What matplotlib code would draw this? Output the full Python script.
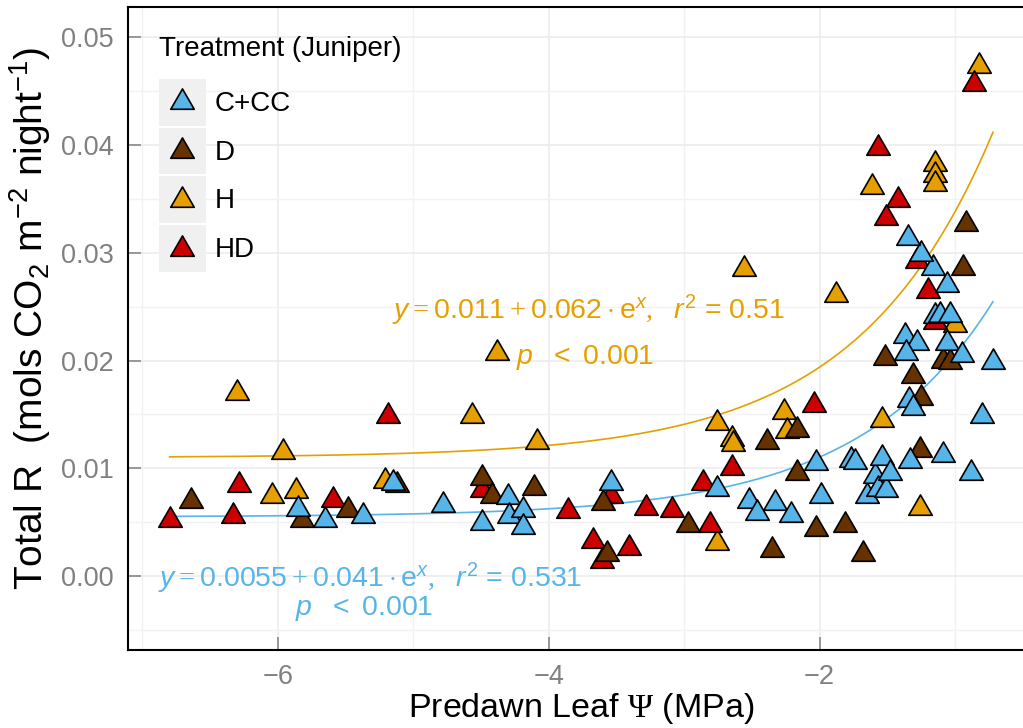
import matplotlib
matplotlib.use("Agg")
import numpy as np
import matplotlib.pyplot as plt
from matplotlib.path import Path
from matplotlib.patches import Rectangle
from matplotlib.lines import Line2D
from matplotlib.legend_handler import HandlerBase
from matplotlib.ticker import MultipleLocator, FormatStrFormatter

plt.rcParams['font.family'] = ['Liberation Sans', 'DejaVu Sans']
plt.rcParams['mathtext.fontset'] = 'custom'
plt.rcParams['mathtext.rm'] = 'Liberation Serif'
plt.rcParams['mathtext.it'] = 'Liberation Sans:italic'
plt.rcParams['mathtext.sf'] = 'Liberation Sans'
plt.rcParams['mathtext.bf'] = 'Liberation Sans:bold'

# ---- data: predawn leaf water potential (MPa) vs total night respiration ----
treatments = ["C+CC", "D", "H", "HD"]
colors = {"C+CC": "#56B4E9", "D": "#663300", "H": "#E69F00", "HD": "#CC0000"}

psi_ccc = [-5.85, -5.65, -5.37, -5.15, -4.78, -4.49, -4.30, -4.29, -4.19, -4.19,
           -3.54, -2.76, -2.52, -2.46, -2.33, -2.21, -2.03, -1.99, -1.77, -1.74,
           -1.65, -1.59, -1.57, -1.54, -1.51, -1.48, -1.33, -1.09, -0.88, -0.80,
           -1.34, -1.31, -1.37, -1.28, -1.36, -1.06, -0.95, -0.72, -1.15, -1.11,
           -1.04, -1.06, -1.16, -1.25, -1.35]
resp_ccc = [0.0062, 0.0052, 0.0056, 0.0086, 0.0066, 0.0049, 0.0073, 0.0056, 0.0061, 0.0046,
            0.0086, 0.0081, 0.0070, 0.0059, 0.0068, 0.0057, 0.0105, 0.0074, 0.0108, 0.0106,
            0.0074, 0.0093, 0.0081, 0.0110, 0.0080, 0.0096, 0.0107, 0.0112, 0.0096, 0.0149,
            0.0163, 0.0156, 0.0223, 0.0216, 0.0207, 0.0216, 0.0205, 0.0199, 0.0241, 0.0242,
            0.0242, 0.0270, 0.0286, 0.0299, 0.0314]

psi_d = [-6.64, -5.82, -5.48, -5.12, -4.49, -4.42, -4.11, -3.60, -3.57, -2.97,
         -2.39, -2.35, -2.17, -2.17, -2.03, -1.81, -1.68, -1.52, -1.31, -1.25,
         -1.26, -1.09, -1.04, -0.94, -0.92]
resp_d = [0.0070, 0.0052, 0.0061, 0.0085, 0.0091, 0.0074, 0.0082, 0.0068, 0.0021, 0.0047,
          0.0124, 0.0024, 0.0136, 0.0096, 0.0044, 0.0047, 0.0021, 0.0202, 0.0186, 0.0165,
          0.0117, 0.0200, 0.0199, 0.0286, 0.0327]

psi_h = [-6.30, -5.96, -6.04, -5.87, -5.21, -4.57, -4.38, -4.09, -2.76, -2.65,
         -2.64, -2.76, -2.56, -2.26, -2.24, -1.88, -1.54, -1.61, -1.15, -1.15,
         -1.15, -1.00, -1.26, -0.82]
resp_h = [0.0170, 0.0115, 0.0074, 0.0079, 0.0088, 0.0149, 0.0207, 0.0124, 0.0142, 0.0127,
          0.0123, 0.0031, 0.0285, 0.0152, 0.0135, 0.0261, 0.0145, 0.0361, 0.0382, 0.0372,
          0.0364, 0.0233, 0.0063, 0.0473]

psi_hd = [-6.80, -6.29, -6.33, -5.59, -5.19, -4.49, -3.86, -3.67, -3.61, -3.41,
          -3.54, -3.28, -3.09, -2.81, -2.86, -2.65, -2.04, -1.57, -1.42, -1.51,
          -1.28, -1.20, -1.15, -0.86]
resp_hd = [0.0052, 0.0085, 0.0056, 0.0071, 0.0149, 0.0080, 0.0060, 0.0033, 0.0014, 0.0026,
           0.0074, 0.0063, 0.0061, 0.0047, 0.0086, 0.0100, 0.0159, 0.0397, 0.0349, 0.0332,
           0.0292, 0.0265, 0.0236, 0.0457]

# exponential fits  y = a + b * exp(x)
fit_h = (0.011, 0.062, 0.51)
fit_ccc = (0.0055, 0.041, 0.531)

series = {"C+CC": (psi_ccc, resp_ccc), "D": (psi_d, resp_d),
          "H": (psi_h, resp_h), "HD": (psi_hd, resp_hd)}

# triangle marker with its centroid on the data point
TRI = Path([(0, 0.577), (-0.5, -0.289), (0.5, -0.289), (0, 0.577)], closed=True)

fig = plt.figure(figsize=(10.23, 7.28), dpi=100)
ax = fig.add_axes([128 / 1023, 78 / 728, (1023 - 128) / 1023, 643 / 728])

handles = {}
for name in ["H", "HD", "D", "C+CC"]:
    xs, ys = series[name]
    (ln,) = ax.plot(xs, ys, ls="none", marker=TRI, ms=19.5, mfc=colors[name],
                    mec="black", mew=1.2, zorder=3)
    handles[name] = ln

all_x = psi_ccc + psi_d + psi_h + psi_hd
xx = np.linspace(min(all_x), max(all_x), 300)
for (a, b, _), col in [(fit_h, colors["H"]), (fit_ccc, colors["C+CC"])]:
    ax.plot(xx, a + b * np.exp(xx), color=col, lw=1.2, zorder=2)


def equation(a, b, r2):
    return (r'$y = \mathsf{%s} + \mathsf{%s} \cdot \mathsf{e}^{x},\ \ r^{\mathsf{2}}$ = %s'
            % (a, b, r2))


eq_size = 20.5
ax.text(-3.71, 0.0247, equation(*fit_h),
        color=colors["H"], fontsize=eq_size, ha="center", va="center", zorder=4)
ax.text(-3.73, 0.0203, r'$p\ \ \mathsf{<\ 0.001}$',
        color=colors["H"], fontsize=eq_size, ha="center", va="center", zorder=4)
ax.text(-5.32, -0.0002, equation(*fit_ccc),
        color=colors["C+CC"], fontsize=eq_size, ha="center", va="center", zorder=4)
ax.text(-5.36, -0.0030, r'$p\ \ \mathsf{<\ 0.001}$',
        color=colors["C+CC"], fontsize=eq_size, ha="center", va="center", zorder=4)

ax.set_xlim(-7.107, -0.498)
ax.set_ylim(-0.00685, 0.0528)
ax.xaxis.set_major_locator(MultipleLocator(2))
ax.xaxis.set_minor_locator(MultipleLocator(1))
ax.yaxis.set_major_locator(MultipleLocator(0.01))
ax.yaxis.set_minor_locator(MultipleLocator(0.005))
ax.yaxis.set_major_formatter(FormatStrFormatter('%.2f'))
ax.set_axisbelow(True)
ax.grid(which="major", color="#ebebeb", lw=1.1)
ax.grid(which="minor", color="#f2f2f2", lw=1.0)
ax.tick_params(which="major", direction="in", length=9.5, width=1.1,
               color="#808080", labelcolor="#808080", labelsize=19.5, pad=10)
ax.tick_params(which="minor", length=0)
for side in ["left", "bottom", "top"]:
    ax.spines[side].set_color("black")
    ax.spines[side].set_linewidth(1.5)
ax.spines["right"].set_visible(False)

fig.text(30 / 1023, 1 - 318 / 728,
         r'Total R  (mols CO$_{\mathsf{2}}$ m$^{\mathsf{-2}}$ night$^{\mathsf{-1}}$)',
         rotation=90, ha="center", va="center", fontsize=28)
fig.text(581 / 1023, 1 - 708 / 728, r'Predawn Leaf $\Psi$ (MPa)',
         ha="center", va="center", fontsize=24.5)


class KeyHandler(HandlerBase):
    def create_artists(self, legend, orig_handle, xdescent, ydescent,
                       width, height, fontsize, trans):
        bg = Rectangle((-xdescent, -ydescent), width, height,
                       facecolor="#f0f0f0", edgecolor="none", transform=trans)
        mk = Line2D([width / 2 - xdescent], [height / 2 - ydescent], ls="none",
                    marker=orig_handle.get_marker(), ms=orig_handle.get_markersize(),
                    mfc=orig_handle.get_markerfacecolor(),
                    mec=orig_handle.get_markeredgecolor(),
                    mew=orig_handle.get_markeredgewidth(), transform=trans)
        return [bg, mk]


leg = ax.legend([handles[t] for t in treatments], treatments,
                title="Treatment (Juniper)", fontsize=20, title_fontsize=20,
                handler_map={Line2D: KeyHandler()},
                handlelength=1.69, handleheight=2.22, labelspacing=0.07,
                handletextpad=0.3, borderpad=0, borderaxespad=0,
                frameon=False, alignment="left", loc="upper left",
                bbox_to_anchor=(159 / 1023, 1 - 36 / 728),
                bbox_transform=fig.transFigure)
leg._legend_box.sep = 12

fig.savefig("out.png", dpi=100)
